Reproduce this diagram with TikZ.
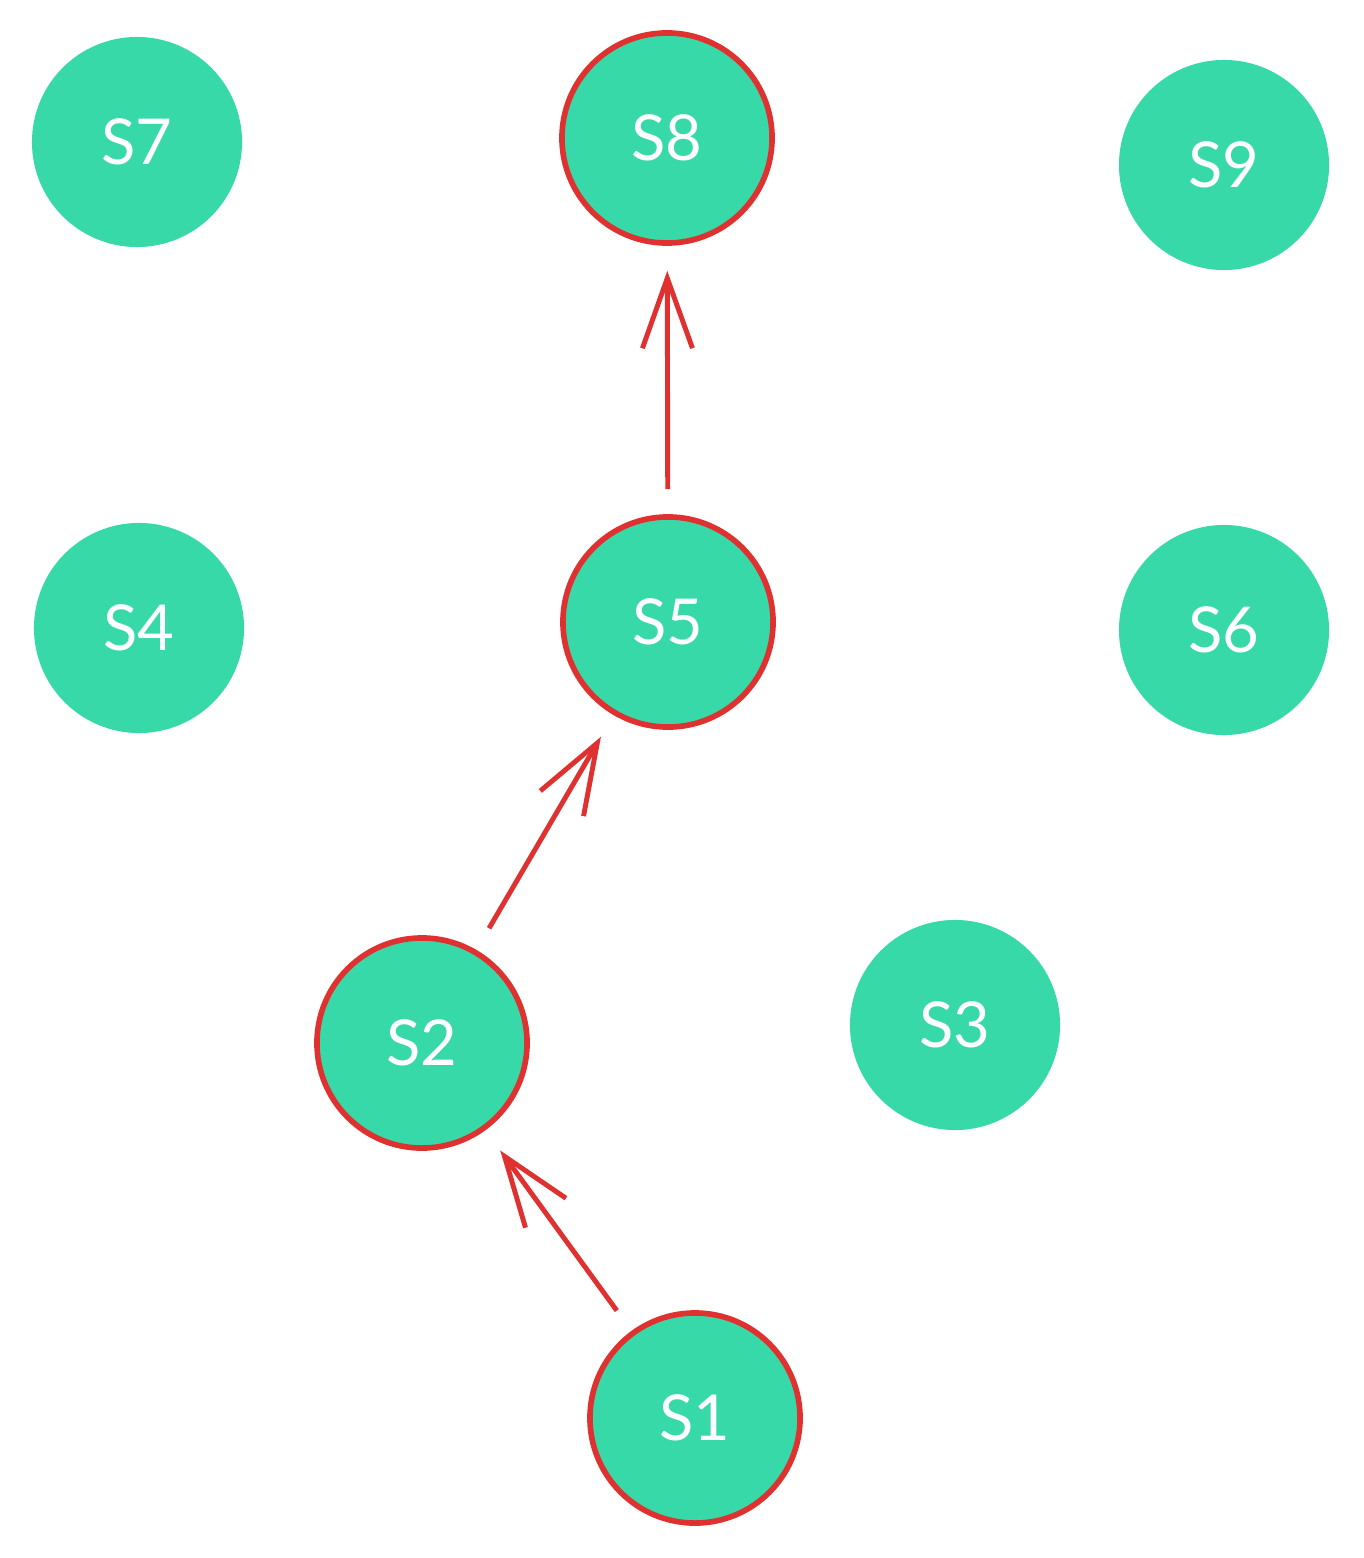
\documentclass[tikz,border=0pt]{standalone}
\usepackage{fontspec}
\setmainfont{Lato}
\usetikzlibrary{arrows.meta}
\definecolor{stategreen}{HTML}{38D9A9}
\definecolor{pathred}{HTML}{E03131}
\begin{document}
\begin{tikzpicture}[x=0.01cm,y=-0.01cm,->,>={Straight Barb[length=7mm,width=5mm,line width=1.4pt]},
                    shorten >=0.25cm,shorten <=0.25cm,line width=1.4pt,pathred]
  \tikzstyle{every node}=[circle,fill=stategreen,draw=none,minimum size=2.1cm,
                          inner sep=0pt,text=white,font=\fontsize{18}{20}\selectfont]
  \tikzstyle{on path}=[draw=pathred,line width=1.6pt]
  \useasboundingbox[draw=none] (0,0) rectangle (1363,1558);

  \node            (S7) at (137,142)  {S7};
  \node[on path]   (S8) at (667,138)  {S8};
  \node            (S9) at (1224,165) {S9};
  \node            (S4) at (139,628)  {S4};
  \node[on path]   (S5) at (668,622)  {S5};
  \node            (S6) at (1224,630) {S6};
  \node[on path]   (S2) at (422,1043) {S2};
  \node            (S3) at (955,1025) {S3};
  \node[on path]   (S1) at (695,1418) {S1};

  \draw (S1) -- (S2);
  \draw (S2) -- (S5);
  \draw (S5) -- (S8);
\end{tikzpicture}
\end{document}
